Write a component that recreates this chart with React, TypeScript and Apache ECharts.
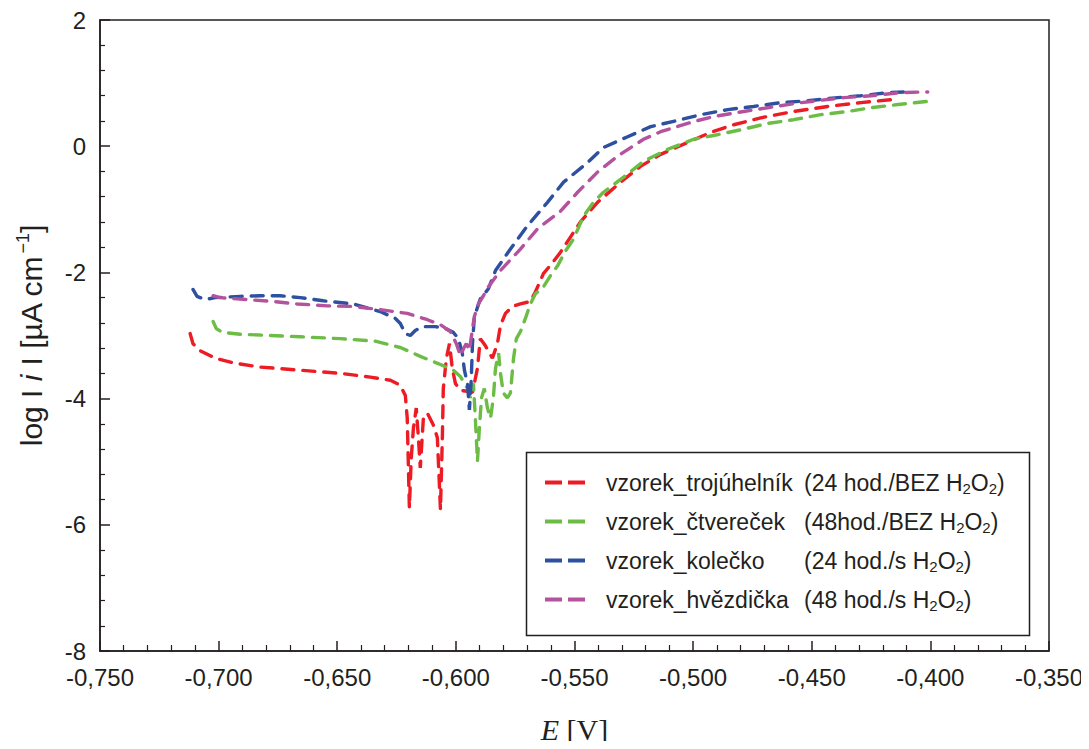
import React, { useEffect, useRef } from "react";
import * as echarts from "echarts";

// Potential E [V] and log|i| values
const redE = [-0.7120, -0.7108, -0.7078, -0.7015, -0.6930, -0.6825, -0.6656, -0.6487, -0.6361, -0.6276, -0.6234, -0.6213, -0.6205, -0.6196, -0.6188, -0.6179, -0.6167, -0.6158, -0.6150, -0.6137, -0.6120, -0.6095, -0.6078, -0.6065, -0.6057, -0.6053, -0.6040, -0.6027, -0.6015, -0.6002, -0.5981, -0.5960, -0.5930, -0.5909, -0.5897, -0.5876, -0.5846, -0.5825, -0.5812, -0.5791, -0.5762, -0.5728, -0.5686, -0.5665, -0.5631, -0.5589, -0.5559, -0.5517, -0.5475, -0.5403, -0.5306, -0.5222, -0.5137, -0.5023, -0.4926, -0.4829, -0.4715, -0.4576, -0.4433, -0.4293, -0.4158];
const redLog = [-2.97, -3.13, -3.24, -3.36, -3.44, -3.50, -3.55, -3.60, -3.66, -3.71, -3.79, -3.95, -4.31, -5.73, -4.94, -4.47, -4.15, -4.62, -5.10, -4.31, -4.23, -4.42, -4.62, -5.76, -4.62, -3.84, -3.36, -3.13, -3.52, -3.76, -3.87, -3.88, -3.90, -3.52, -3.05, -3.16, -3.36, -3.13, -2.84, -2.65, -2.54, -2.50, -2.46, -2.31, -2.02, -1.83, -1.68, -1.44, -1.20, -0.89, -0.57, -0.32, -0.13, 0.06, 0.22, 0.34, 0.45, 0.55, 0.63, 0.69, 0.74];

const greenE = [-0.7023, -0.7010, -0.6985, -0.6909, -0.6783, -0.6656, -0.6487, -0.6340, -0.6234, -0.6150, -0.6065, -0.6011, -0.5981, -0.5951, -0.5939, -0.5926, -0.5918, -0.5909, -0.5901, -0.5892, -0.5880, -0.5867, -0.5854, -0.5842, -0.5833, -0.5820, -0.5812, -0.5800, -0.5783, -0.5770, -0.5757, -0.5745, -0.5728, -0.5707, -0.5686, -0.5665, -0.5631, -0.5601, -0.5572, -0.5538, -0.5504, -0.5462, -0.5420, -0.5378, -0.5293, -0.5209, -0.5108, -0.4998, -0.4914, -0.4800, -0.4686, -0.4576, -0.4462, -0.4348, -0.4251, -0.4137, -0.4011];
const greenLog = [-2.78, -2.89, -2.95, -2.98, -3.00, -3.02, -3.05, -3.09, -3.19, -3.33, -3.46, -3.55, -3.65, -3.84, -3.99, -3.76, -4.31, -4.99, -4.47, -3.99, -3.84, -4.15, -4.31, -3.99, -3.52, -3.28, -3.60, -3.91, -3.99, -3.91, -3.36, -3.05, -2.94, -2.73, -2.50, -2.34, -2.23, -2.05, -1.90, -1.66, -1.47, -1.11, -0.89, -0.73, -0.49, -0.24, -0.05, 0.11, 0.17, 0.26, 0.36, 0.42, 0.50, 0.55, 0.61, 0.66, 0.71];

const blueE = [-0.7108, -0.7091, -0.7057, -0.7015, -0.6909, -0.6825, -0.6741, -0.6656, -0.6559, -0.6432, -0.6319, -0.6255, -0.6234, -0.6213, -0.6192, -0.6171, -0.6141, -0.6086, -0.6044, -0.6011, -0.5989, -0.5973, -0.5964, -0.5951, -0.5943, -0.5935, -0.5930, -0.5922, -0.5897, -0.5863, -0.5833, -0.5770, -0.5698, -0.5614, -0.5546, -0.5445, -0.5378, -0.5276, -0.5179, -0.5053, -0.4968, -0.4854, -0.4745, -0.4631, -0.4517, -0.4390, -0.4293, -0.4179, -0.4104];
const blueLog = [-2.27, -2.38, -2.43, -2.40, -2.38, -2.37, -2.37, -2.40, -2.45, -2.50, -2.62, -2.73, -2.81, -2.97, -3.00, -2.92, -2.86, -2.86, -2.89, -2.95, -3.05, -3.28, -3.55, -3.76, -4.18, -3.68, -3.13, -2.70, -2.42, -2.26, -1.97, -1.63, -1.26, -0.89, -0.57, -0.26, -0.02, 0.15, 0.31, 0.42, 0.50, 0.58, 0.63, 0.69, 0.72, 0.77, 0.80, 0.85, 0.86];

const magentaE = [-0.7023, -0.6994, -0.6880, -0.6770, -0.6669, -0.6542, -0.6432, -0.6319, -0.6205, -0.6120, -0.6065, -0.6023, -0.5998, -0.5981, -0.5968, -0.5956, -0.5943, -0.5930, -0.5922, -0.5905, -0.5884, -0.5863, -0.5812, -0.5728, -0.5656, -0.5559, -0.5487, -0.5403, -0.5319, -0.5209, -0.5137, -0.4998, -0.4914, -0.4787, -0.4686, -0.4546, -0.4365, -0.4251, -0.4124, -0.4011];
const magentaLog = [-2.37, -2.40, -2.43, -2.46, -2.50, -2.53, -2.54, -2.59, -2.65, -2.75, -2.83, -2.94, -3.13, -3.32, -3.21, -3.13, -3.24, -2.89, -2.70, -2.50, -2.37, -2.23, -1.97, -1.63, -1.31, -1.03, -0.73, -0.41, -0.16, 0.11, 0.23, 0.39, 0.47, 0.55, 0.61, 0.69, 0.77, 0.80, 0.85, 0.86];

const seriesNames = ["trojuhelnik", "ctverecek", "kolecko", "hvezdicka"];
const legendNames = ["vzorek_trojúhelník", "vzorek_čtvereček", "vzorek_kolečko", "vzorek_hvězdička"];
const legendConditions = ["(24 hod./BEZ H", "(48hod./BEZ H", "(24 hod./s H", "(48 hod./s H"];
const seriesColors = ["#ed1c24", "#6cbd45", "#2d50a0", "#b4529e"];

const xTickMin = -0.75;
const xTickMax = -0.35;
const xTickStep = 0.05;
const yTickMin = -8;
const yTickMax = 2;
const yTickStep = 2;

const zip = (xs: number[], ys: number[]) => xs.map((x, i) => [x, ys[i]]);

export default function App() {
  const ref = useRef<HTMLDivElement>(null);
  useEffect(() => {
    if (!ref.current) return;
    const chart = echarts.init(ref.current, undefined, { renderer: "svg" });
    const dataSets = [zip(redE, redLog), zip(greenE, greenLog), zip(blueE, blueLog), zip(magentaE, magentaLog)];
    const ink = "#231f20";
    const font = "'Liberation Sans', Arial, Helvetica, sans-serif";
    const serif = "'Liberation Serif', 'Times New Roman', serif";
    chart.setOption({
      animation: false,
      backgroundColor: "#ffffff",
      grid: {
        left: 100,
        right: 40,
        top: 20,
        bottom: 95,
        show: true,
        borderColor: ink,
        borderWidth: 1.5,
      },
      xAxis: {
        type: "value",
        min: xTickMin,
        max: xTickMax,
        interval: xTickStep,
        name: "{e|E} [V]",
        nameLocation: "middle",
        nameGap: 63,
        nameTextStyle: {
          fontFamily: serif,
          fontSize: 30,
          color: ink,
          rich: {
            e: { fontFamily: serif, fontSize: 30, fontStyle: "italic", color: ink },
          },
        },
        axisLine: { onZero: false, lineStyle: { color: ink, width: 1.5 } },
        axisTick: { inside: true, length: 10, lineStyle: { color: ink, width: 1.5 } },
        minorTick: { show: true, splitNumber: 5, length: 6, lineStyle: { color: ink, width: 1.2 } },
        splitLine: { show: false },
        axisLabel: {
          fontFamily: font,
          fontSize: 24,
          lineHeight: 24,
          color: ink,
          margin: 14,
          formatter: (v: number) => v.toFixed(3).replace(".", ","),
        },
      },
      yAxis: {
        type: "value",
        min: yTickMin,
        max: yTickMax,
        interval: yTickStep,
        name: "log I {i|i} I [µA cm{sup|−1}]",
        nameLocation: "middle",
        nameGap: 52,
        nameTextStyle: {
          fontFamily: font,
          fontSize: 30,
          color: ink,
          rich: {
            i: { fontFamily: font, fontSize: 30, fontStyle: "italic", color: ink },
            sup: { fontFamily: font, fontSize: 18, color: ink, padding: [0, 0, 16, 2] },
          },
        },
        axisLine: { onZero: false, lineStyle: { color: ink, width: 1.5 } },
        axisTick: { inside: true, length: 10, lineStyle: { color: ink, width: 1.5 } },
        minorTick: { show: true, splitNumber: 5, length: 5, lineStyle: { color: ink, width: 1.2 } },
        splitLine: { show: false },
        axisLabel: { fontFamily: font, fontSize: 24, lineHeight: 20, color: ink, margin: 14 },
      },
      legend: {
        orient: "vertical",
        left: 540,
        top: 464,
        itemWidth: 40,
        itemHeight: 4,
        itemGap: 12,
        icon: "path://M0,0h17v4h-17z M23,0h17v4h-17z",
        data: seriesNames,
        formatter: (name: string) => {
          const i = seriesNames.indexOf(name);
          return `{p|}{n|${legendNames[i]}}{a|${legendConditions[i]}}{s|2}{a|O}{s|2}{a|)}`;
        },
        textStyle: {
          fontFamily: font,
          fontSize: 23,
          color: ink,
          rich: {
            p: { width: 16, height: 26 },
            n: { fontFamily: font, fontSize: 23, color: ink, width: 198, lineHeight: 26 },
            a: { fontFamily: font, fontSize: 23, color: ink, lineHeight: 26 },
            s: { fontFamily: font, fontSize: 15, color: ink, lineHeight: 26, padding: [12, 0, 0, 0] },
          },
        },
      },
      graphic: [
        {
          type: "rect",
          left: 524,
          top: 450,
          shape: { width: 503, height: 183 },
          style: { fill: "none", stroke: ink, lineWidth: 1.5 },
          z: -1,
        },
      ],
      series: seriesNames.map((name, i) => ({
        name,
        type: "line",
        data: dataSets[i],
        showSymbol: false,
        symbol: "none",
        color: seriesColors[i],
        lineStyle: { color: seriesColors[i], width: 3.4, type: [12, 9], cap: "round" },
        z: 2 + i,
      })),
    });
    return () => chart.dispose();
  }, []);
  return <div ref={ref} style={{ width: 1089, height: 749, margin: -8 }} />;
}
